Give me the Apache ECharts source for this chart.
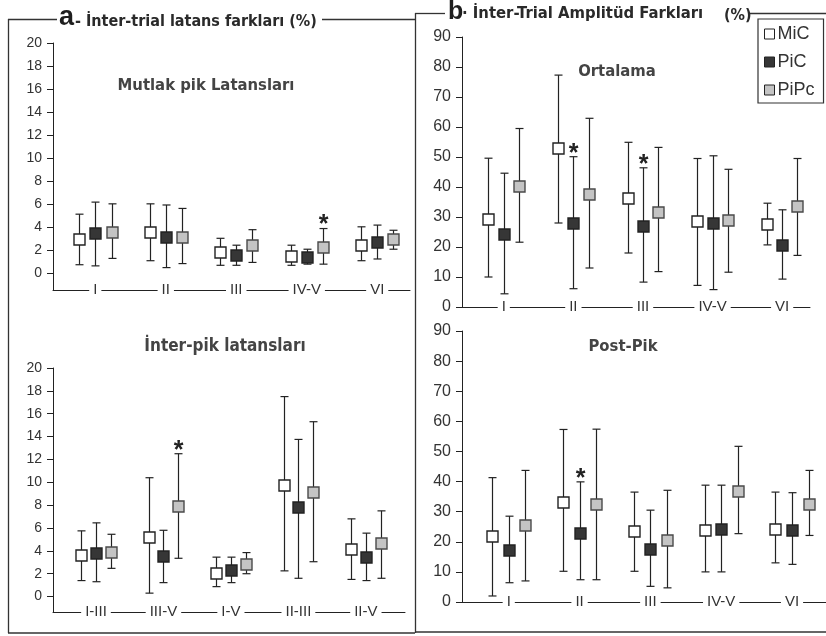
<!DOCTYPE html>
<html><head><meta charset="utf-8">
<script src="https://cdn.jsdelivr.net/npm/echarts@6/dist/echarts.min.js"></script>
<style>html,body{margin:0;padding:0;background:#fff}#c{width:826px;height:636px}</style>
</head><body><div id="c"></div>
<script>
// ---------- DATA ----------
const seriesNames = ['MiC', 'PiC', 'PiPc'];

// a - Mutlak pik Latansları  [mean, low, high]
const catsMutlak = ['I', 'II', 'III', 'IV-V', 'VI'];
const mutlakMiC  = [[2.9, 0.7, 5.1], [3.55, 1.05, 6.0], [1.8, 0.65, 3.0], [1.5, 0.65, 2.4], [2.4, 1.05, 4.0]];
const mutlakPiC  = [[3.45, 0.6, 6.15], [3.1, 0.45, 5.9], [1.55, 0.65, 2.4], [1.35, 0.75, 2.05], [2.65, 1.2, 4.15]];
const mutlakPiPc = [[3.55, 1.25, 6.0], [3.15, 0.8, 5.6], [2.4, 0.9, 3.75], [2.2, 0.75, 3.85], [2.95, 2.05, 3.7]];
const starsMutlak = [['IV-V', 'PiPc']];

// a - İnter-pik latansları
const catsInterpik = ['I-III', 'III-V', 'I-V', 'II-III', 'II-V'];
const interpikMiC  = [[3.65, 1.4, 5.75], [5.2, 0.3, 10.4], [2.1, 0.87, 3.45], [9.8, 2.25, 17.5], [4.15, 1.5, 6.8]];
const interpikPiC  = [[3.85, 1.3, 6.45], [3.55, 1.22, 5.8], [2.33, 1.22, 3.45], [7.8, 1.6, 13.75], [3.45, 1.4, 5.55]];
const interpikPiPc = [[3.87, 2.47, 5.45], [7.9, 3.35, 12.5], [2.82, 2.0, 3.85], [9.15, 3.05, 15.3], [4.65, 1.6, 7.5]];
const starsInterpik = [['III-V', 'PiPc']];

// b - Ortalama
const catsOrtalama = ['I', 'II', 'III', 'IV-V', 'VI'];
const ortalamaMiC  = [[29.3, 10, 49.6], [53.1, 28, 77.3], [36.5, 18, 54.9], [28.8, 7.2, 49.5], [27.7, 20.7, 34.6]];
const ortalamaPiC  = [[24.3, 4.4, 44.6], [28.1, 6.1, 50.1], [27.1, 8.3, 46.4], [27.9, 5.8, 50.4], [20.7, 9.3, 32.4]];
const ortalamaPiPc = [[40.4, 21.6, 59.5], [37.6, 13, 62.9], [31.8, 11.8, 53.2], [29, 11.6, 45.9], [33.7, 17.2, 49.5]];
const starsOrtalama = [['II', 'PiC'], ['III', 'PiC']];

// b - Post-Pik
const catsPostpik = ['I', 'II', 'III', 'IV-V', 'VI'];
const postpikMiC  = [[21.9, 2, 41.3], [33.2, 10.2, 57.3], [23.5, 10.2, 36.5], [24, 10, 38.8], [24.4, 13, 36.5]];
const postpikPiC  = [[17.4, 6.4, 28.5], [23, 7.4, 39.9], [17.7, 5.2, 30.5], [24.1, 10, 38.8], [24, 12.5, 36.3]];
const postpikPiPc = [[25.7, 7, 43.7], [32.4, 7.4, 57.4], [20.7, 4.7, 37.1], [36.8, 22.7, 51.7], [32.4, 22.1, 43.7]];
const starsPostpik = [['II', 'PiC']];

const ticksLatans = [0, 2, 4, 6, 8, 10, 12, 14, 16, 18, 20];
const ticksAmplitud = [0, 10, 20, 30, 40, 50, 60, 70, 80, 90];

// ---------- LAYOUT / STYLE ----------
const SANS = "'Liberation Sans', Arial, sans-serif";
const NARROW = "'Liberation Sans Narrow', 'DejaVu Sans Condensed', 'Liberation Sans', sans-serif";
const ink = '#222';
const styles = {
  MiC:  { fill: '#ffffff', stroke: '#222' },
  PiC:  { fill: '#363636', stroke: '#222' },
  PiPc: { fill: '#c4c4c4', stroke: '#4a4a4a' }
};

const panels = [
  { cats: catsMutlak, data: [mutlakMiC, mutlakPiC, mutlakPiPc], stars: starsMutlak, ticks: ticksLatans,
    grid: { left: 53, top: 43, width: 357, height: 247 }, ymin: -1.5, ymax: 20, xmin: -0.6, xmax: 4.465, spread: 0.23, fs: 14 },
  { cats: catsInterpik, data: [interpikMiC, interpikPiC, interpikPiPc], stars: starsInterpik, ticks: ticksLatans,
    grid: { left: 53, top: 368, width: 352, height: 244 }, ymin: -1.35, ymax: 20, xmin: -0.637, xmax: 4.58, spread: 0.22, fs: 14 },
  { cats: catsOrtalama, data: [ortalamaMiC, ortalamaPiC, ortalamaPiPc], stars: starsOrtalama, ticks: ticksAmplitud,
    grid: { left: 462, top: 37, width: 348, height: 270 }, ymin: 0, ymax: 90, xmin: -0.6, xmax: 4.4, spread: 0.22, fs: 16 },
  { cats: catsPostpik, data: [postpikMiC, postpikPiC, postpikPiPc], stars: starsPostpik, ticks: ticksAmplitud,
    grid: { left: 462, top: 331, width: 364, height: 271 }, ymin: 0, ymax: 90, xmin: -0.66, xmax: 4.48, spread: 0.235, fs: 16 }
];

const grid = [], xAxis = [], yAxis = [], series = [];
panels.forEach((p, pi) => {
  grid.push(p.grid);
  const idx = p.cats.map((c, i) => i);
  xAxis.push({
    type: 'value', gridIndex: pi, min: p.xmin, max: p.xmax, splitLine: { show: false },
    axisLine: { show: true, onZero: false, lineStyle: { color: ink, width: 1 } },
    axisTick: { show: false },
    axisLabel: {
      customValues: idx, formatter: v => p.cats[Math.round(v)] || '',
      margin: -8, fontFamily: SANS, fontSize: 15, color: '#333', lineHeight: 15,
      backgroundColor: '#fff', padding: [0, 4]
    }
  });
  yAxis.push({
    type: 'value', gridIndex: pi, min: p.ymin, max: p.ymax, splitLine: { show: false },
    axisLine: { show: true, onZero: false, lineStyle: { color: ink, width: 1 } },
    axisTick: { show: true, length: 6, customValues: p.ticks, lineStyle: { color: ink } },
    axisLabel: { customValues: p.ticks, margin: 11, fontFamily: SANS, fontSize: p.fs, color: '#333' }
  });
  seriesNames.forEach((name, si) => {
    const st = styles[name];
    const starCats = p.stars.filter(s => s[1] === name).map(s => p.cats.indexOf(s[0]));
    series.push({
      type: 'custom', name: name, xAxisIndex: pi, yAxisIndex: pi,
      itemStyle: { color: st.fill, borderColor: st.stroke },
      encode: { x: 0, y: 1 },
      data: p.data[si].map((d, ci) => [ci, d[0], d[1], d[2], starCats.indexOf(ci) >= 0 ? 1 : 0]),
      renderItem: (params, api) => {
        const ci = api.value(0);
        const bw = api.size([1, 0])[0];
        const m = api.coord([ci, api.value(1)]);
        const lo = api.coord([ci, api.value(2)]);
        const hi = api.coord([ci, api.value(3)]);
        const x = Math.round(m[0] + (si - 1) * bw * p.spread) + 0.5;
        const cap = 4;
        const ls = { stroke: ink, lineWidth: 1.2 };
        const children = [
          { type: 'line', shape: { x1: x, y1: hi[1], x2: x, y2: lo[1] }, style: ls },
          { type: 'line', shape: { x1: x - cap, y1: hi[1], x2: x + cap, y2: hi[1] }, style: ls },
          { type: 'line', shape: { x1: x - cap, y1: lo[1], x2: x + cap, y2: lo[1] }, style: ls },
          { type: 'rect', shape: { x: x - 5.5, y: Math.round(m[1]) - 5, width: 11, height: 11 },
            style: { fill: st.fill, stroke: st.stroke, lineWidth: 1.4 } }
        ];
        if (api.value(4)) {
          children.push({ type: 'text', x: x, y: hi[1] - 3,
            style: { text: '*', fill: ink, font: 'bold 25px ' + SANS, textAlign: 'center', textVerticalAlign: 'middle' } });
        }
        return { type: 'group', children: children };
      }
    });
  });
});

const L = (x1, y1, x2, y2) => ({ type: 'line', shape: { x1, y1, x2, y2 }, style: { stroke: '#333', lineWidth: 1.3 }, silent: true });
const T = (x, y, text, font, align, color) => ({ type: 'text', x, y, silent: true,
  style: { text, font, fill: color || '#2a2a2a', textAlign: align || 'left', textVerticalAlign: 'middle' } });

const graphic = [
  // frames
  L(8, 19.5, 57, 19.5), L(322, 19.5, 415, 19.5), L(8.5, 19, 8.5, 633),
  L(8, 633, 415, 633), L(415.5, 13, 415.5, 633), L(415, 632, 826, 632),
  L(415, 13.5, 445, 13.5), L(749, 13.5, 826, 13.5),
  // titles
  T(59, 18, 'a', 'bold 27px ' + SANS, 'left', '#1e1e1e'),
  T(75, 22, '- İnter-trial latans farkları (%)', 'bold 16px ' + NARROW),
  T(448, 12, 'b', 'bold 25px ' + SANS, 'left', '#1e1e1e'),
  T(462, 14, '· İnter-Trial Amplitüd Farkları', 'bold 16.5px ' + NARROW),
  T(724, 16, '(%)', 'bold 16px ' + NARROW),
  // subtitles
  T(206, 86, 'Mutlak pik Latansları', 'bold 16.5px ' + NARROW, 'center', '#444'),
  T(225, 347, 'İnter-pik latansları', 'bold 17px ' + NARROW, 'center', '#444'),
  T(617, 72, 'Ortalama', 'bold 16.5px ' + NARROW, 'center', '#444'),
  T(623, 347, 'Post-Pik', 'bold 16.5px ' + NARROW, 'center', '#444')
];

const chart = echarts.init(document.getElementById('c'), null, { renderer: 'canvas' });
chart.setOption({
  backgroundColor: '#fff',
  animation: false,
  grid, xAxis, yAxis, series, graphic,
  legend: {
    left: 758, top: 19, orient: 'vertical', backgroundColor: '#fff',
    borderColor: '#333', borderWidth: 1.2, padding: [6, 9, 4, 6], itemGap: 10,
    itemWidth: 10, itemHeight: 10, icon: 'rect',
    textStyle: { fontFamily: SANS, fontSize: 18, color: '#333', padding: [0, 0, 0, -2] },
    data: seriesNames.map(n => ({ name: n, itemStyle: { color: styles[n].fill, borderColor: '#222', borderWidth: 1 } }))
  }
});
</script></body></html>
